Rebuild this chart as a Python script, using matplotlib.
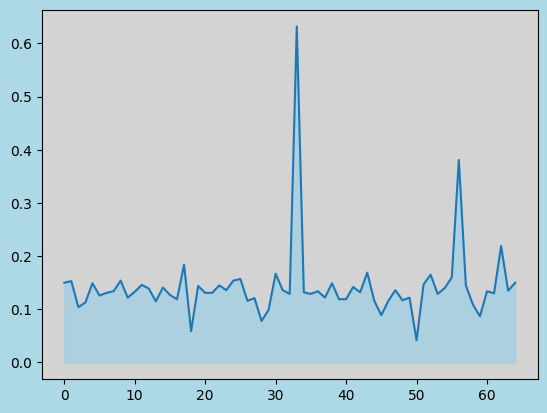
import numpy as np
import matplotlib
matplotlib.use("Agg")
import matplotlib.pyplot as plt

# values, one per index 0..64
values = [
    0.150, 0.153, 0.104, 0.113, 0.149, 0.126, 0.131, 0.134, 0.154, 0.122,
    0.133, 0.146, 0.139, 0.115, 0.141, 0.127, 0.119, 0.184, 0.059, 0.144,
    0.131, 0.131, 0.145, 0.136, 0.154, 0.157, 0.116, 0.121, 0.078, 0.099,
    0.167, 0.136, 0.129, 0.632, 0.132, 0.129, 0.134, 0.122, 0.149, 0.119,
    0.119, 0.142, 0.132, 0.169, 0.116, 0.089, 0.116, 0.136, 0.117, 0.122,
    0.042, 0.147, 0.165, 0.129, 0.140, 0.160, 0.381, 0.145, 0.109, 0.087,
    0.134, 0.130, 0.219, 0.135, 0.150,
]
x = np.arange(len(values))

fig, ax = plt.subplots(figsize=(6.4, 4.8))
fig.patch.set_facecolor('lightblue')
ax.set_facecolor('lightgray')

ax.fill_between(x, values, color='skyblue', alpha=0.5)
ax.plot(x, values, color='tab:blue')

fig.savefig('out.png', facecolor=fig.get_facecolor(), bbox_inches='tight')
